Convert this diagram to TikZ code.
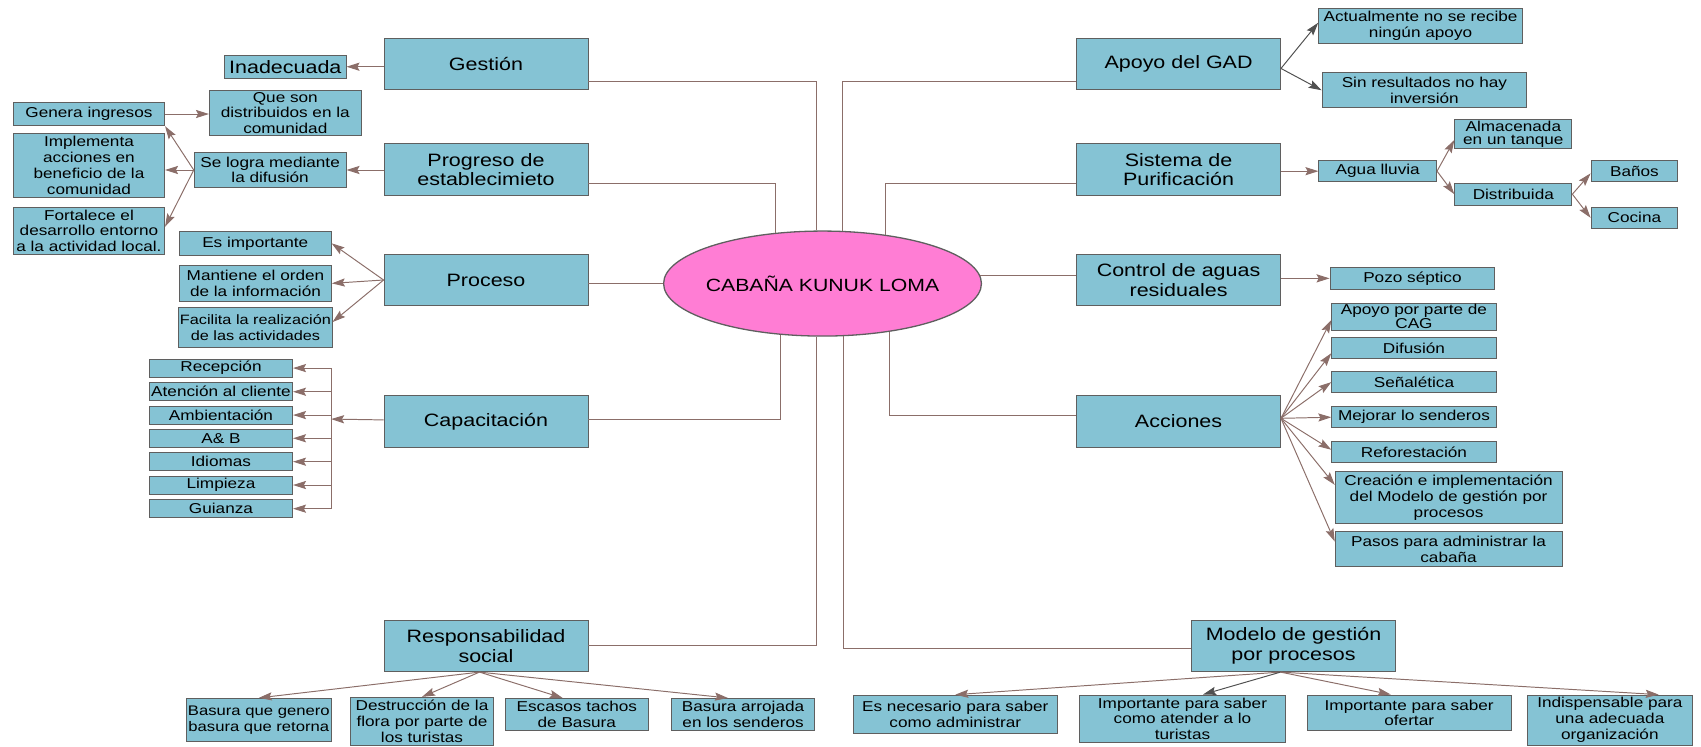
\documentclass[tikz,border=0pt]{standalone}
\usepackage{fontspec}
\setmainfont{Liberation Sans}[FakeStretch=1.2]
\usetikzlibrary{shapes,arrows.meta}
\definecolor{BoxBlue}{RGB}{133,195,212}
\definecolor{BoxLine}{RGB}{95,95,95}
\definecolor{LinkBrown}{RGB}{139,110,105}
\definecolor{HubPink}{RGB}{255,125,212}
\definecolor{ArrGrey}{RGB}{80,80,80}

\begin{document}
\begin{tikzpicture}[x=1pt,y=-1pt]
		\tikzstyle{every node}=[inner sep=1pt, align=center];
		\tikzstyle{main}=[draw=BoxLine, line width=0.8pt, fill=BoxBlue, minimum width=188pt, minimum height=47.5pt, font=\fontsize{16.5}{18}\selectfont];
		\tikzstyle{leaf}=[draw=BoxLine, line width=0.8pt, fill=BoxBlue, font=\fontsize{13.2}{14.5}\selectfont];
		\tikzstyle{link}=[draw=LinkBrown, line width=0.9pt];
		\tikzstyle{arr}=[link, -{Stealth[length=12pt,width=7.5pt,inset=2pt]}];
		\useasboundingbox (0,0) rectangle (1568,688);
		% centre
		\node [ellipse, draw=BoxLine, line width=1.2pt, fill=HubPink, minimum width=293pt, minimum height=96.8pt, font=\fontsize{16.3}{18}\selectfont] (cab) at (758.2,261.4) {\makebox[0pt]{CABAÑA KUNUK LOMA}};
		% left side
		\node [main] (gest) at (448,59.1) {Gestión};
		\node [leaf, font=\fontsize{16.5}{18}\selectfont, minimum width=112pt, minimum height=21.5pt] (inad) at (263,61.5) {Inadecuada};
		\node [main] (prog) at (448,156.3) {Progreso de\\establecimieto};
		\node [leaf, minimum width=140pt, minimum height=33pt] (selog) at (249,156.7) {Se logra mediante\\la difusión};
		\node [leaf, minimum width=139.5pt, minimum height=21.6pt] (gen) at (82,105.1) {Genera ingresos};
		\node [leaf, minimum width=140pt, minimum height=42pt] (que) at (263,104) {Que son\\distribuidos en la\\comunidad};
		\node [leaf, minimum width=139.5pt, minimum height=59pt] (impl) at (82,152.4) {Implementa\\acciones en\\beneficio de la\\comunidad};
		\node [leaf, minimum width=139.5pt, minimum height=43pt] (fort) at (82,212.6) {Fortalece el\\desarrollo entorno\\a la actividad local.};
		\node [main] (proc) at (448,258.1) {Proceso};
		\node [leaf, minimum width=140pt, minimum height=21.4pt] (esimp) at (235.3,224.3) {Es importante};
		\node [leaf, minimum width=140pt, minimum height=32.6pt] (mant) at (235.5,261.2) {Mantiene el orden\\de la información};
		\node [leaf, font=\fontsize{12.5}{14.5}\selectfont, minimum width=140pt, minimum height=37pt] (facil) at (235.5,301.9) {Facilita la realización\\de las actividades};
		\node [main] (capac) at (448,388.6) {Capacitación};
		\coordinate (capbus) at (305.2,386.3);
		\node [leaf, minimum width=132pt, minimum height=16.5pt] (recep) at (203.7,339.3) {Recepción};
		\node [leaf, minimum width=132pt, minimum height=16.5pt] (aten) at (203.7,361.1) {Atención al cliente};
		\node [leaf, minimum width=132pt, minimum height=16.5pt] (ambi) at (203.7,382.6) {Ambientación};
		\node [leaf, minimum width=132pt, minimum height=16.5pt] (ayb) at (203.7,404.0) {A\& B};
		\node [leaf, minimum width=132pt, minimum height=16.5pt] (idio) at (203.7,425.6) {Idiomas};
		\node [leaf, minimum width=132pt, minimum height=16.5pt] (limp) at (203.7,447.1) {Limpieza};
		\node [leaf, minimum width=132pt, minimum height=16.5pt] (guia) at (203.7,468.9) {Guianza};
		\node [main] (resp) at (448,595.4) {Responsabilidad\\social};
		\node [leaf, font=\fontsize{12.8}{14.5}\selectfont, minimum width=133.4pt, minimum height=40pt] (basgen) at (238.6,663.7) {Basura que genero\\basura que retorna};
		\node [leaf, minimum width=132.3pt, minimum height=44pt] (destr) at (389,664.8) {Destrucción de la\\flora por parte de\\los turistas};
		\node [leaf, minimum width=131.8pt, minimum height=29.2pt] (escas) at (531.7,658.4) {Escasos tachos\\de Basura};
		\node [leaf, minimum width=132pt, minimum height=29.2pt] (basarr) at (685,658.4) {Basura arrojada\\en los senderos};
		% right side
		\node [main] (gad) at (1086.4,59.1) {Apoyo del GAD};
		\node [leaf, minimum width=188pt, minimum height=32.3pt] (actual) at (1309.5,23.8) {Actualmente no se recibe\\ningún apoyo};
		\node [leaf, minimum width=188.6pt, minimum height=32.3pt] (sinres) at (1313,83.2) {Sin resultados no hay\\inversión};
		\node [main] (sist) at (1086.4,156.3) {Sistema de\\Purificación};
		\node [leaf, minimum width=108.5pt, minimum height=19.4pt] (agua) at (1270,157.8) {Agua lluvia};
		\node [leaf, font=\fontsize{13.2}{12.5}\selectfont, minimum width=108pt, minimum height=26pt] (almac) at (1395,123.7) {Almacenada\\en un tanque};
		\node [leaf, minimum width=108pt, minimum height=20pt] (distr) at (1395,179) {Distribuida};
		\node [leaf, minimum width=80pt, minimum height=19.4pt] (banos) at (1506.6,157.8) {Baños};
		\node [leaf, minimum width=80pt, minimum height=19.4pt] (cocina) at (1506.6,200.8) {Cocina};
		\node [main] (ctrl) at (1086.4,258.1) {Control de aguas\\residuales};
		\node [leaf, minimum width=152pt, minimum height=19.6pt] (pozo) at (1302,256.6) {Pozo séptico};
		\node [main] (acc) at (1086.4,388.6) {Acciones};
		\node [leaf, font=\fontsize{13.2}{11.5}\selectfont, minimum width=151.6pt, minimum height=24.6pt] (cag) at (1303.4,292) {Apoyo por parte de\\CAG};
		\node [leaf, minimum width=151.6pt, minimum height=19.3pt] (difus) at (1303.4,320.6) {Difusión};
		\node [leaf, minimum width=151.6pt, minimum height=19.3pt] (senal) at (1303.4,352.2) {Señalética};
		\node [leaf, minimum width=151.6pt, minimum height=19.3pt] (mejor) at (1303.4,384.6) {Mejorar lo senderos};
		\node [leaf, minimum width=151.6pt, minimum height=19.3pt] (refor) at (1303.4,416.6) {Reforestación};
		\node [leaf, minimum width=209pt, minimum height=47.6pt] (creac) at (1335.3,458.6) {Creación e implementación\\del Modelo de gestión por\\procesos};
		\node [leaf, minimum width=209pt, minimum height=32.3pt] (pasos) at (1335.3,506.2) {Pasos para administrar la\\cabaña};
		\node [main] (modelo) at (1192.4,595.4) {Modelo de gestión\\por procesos};
		\node [leaf, minimum width=188pt, minimum height=35.3pt] (esnec) at (880.6,658.4) {Es necesario para saber\\como administrar};
		\node [leaf, minimum width=189.6pt, minimum height=44pt] (impat) at (1090,662.6) {Importante para saber\\como atender a lo\\turistas};
		\node [leaf, minimum width=188.5pt, minimum height=33pt] (ofert) at (1299,657.1) {Importante para saber\\ofertar};
		\node [leaf, minimum width=152pt, minimum height=46pt] (indisp) at (1484,663.7) {Indispensable para\\una adecuada\\organización};
		% links to the centre
		\draw [link] ([yshift=-15.6pt]gest.east) -| (cab.97);
		\draw [link] ([yshift=-12.7pt]prog.east) -| (cab.133);
		\draw [link] (cab.west) -- (cab.west -| proc.east);
		\draw [link] ([yshift=2.3pt]capac.east) -| (cab.231);
		\draw [link] (resp.east) -| (cab.263);
		\draw [link] ([yshift=-15.6pt]gad.west) -| (cab.69);
		\draw [link] ([yshift=-12.7pt]sist.west) -| (cab.38);
		\draw [link] (cab.3) -- (cab.3 -| ctrl.west);
		\draw [link] ([yshift=6pt]acc.west) -| (cab.324);
		\draw [link] ([yshift=-2.3pt]modelo.west) -| (cab.292);
		% left arrows
		\draw [arr] (gest.west |- inad.east) -- (inad.east);
		\draw [arr] (prog.west |- selog.east) -- (selog.east);
		\draw [arr] (selog.west) -- (gen.south east);
		\draw [arr] (selog.west) -- (impl.east |- selog.west);
		\draw [arr] (selog.west) -- ([yshift=3.6pt]fort.east);
		\draw [arr] (gen.east) -- (gen.east -| que.west);
		\draw [arr] (proc.west) -- (esimp.east);
		\draw [arr] (proc.west) -- (mant.east);
		\draw [arr] (proc.west) -- ([yshift=5pt]facil.east);
		\draw [arr] (capac) -- (capbus);
		\draw [arr] (capbus) |- (recep.east);
		\draw [arr] (capbus) |- (aten.east);
		\draw [arr] (capbus) |- (ambi.east);
		\draw [arr] (capbus) |- (ayb.east);
		\draw [arr] (capbus) |- (idio.east);
		\draw [arr] (capbus) |- (limp.east);
		\draw [arr] (capbus) |- (guia.east);
		\draw [arr] ([xshift=-6pt]resp.south) -- (basgen.north);
		\draw [arr] ([xshift=-6pt]resp.south) -- (destr.north);
		\draw [arr] ([xshift=-6pt]resp.south) -- ([xshift=-13pt]escas.north);
		\draw [arr] ([xshift=-6pt]resp.south) -- ([xshift=-14pt]basarr.north);
		% right arrows
		\draw [arr, draw=ArrGrey] ([yshift=-4pt]gad.east) -- ([yshift=2.8pt]actual.west);
		\draw [arr, draw=ArrGrey] ([yshift=-4pt]gad.east) -- (sinres.west);
		\draw [arr] (sist.east |- agua.west) -- (agua.west);
		\draw [arr] (agua.east) -- ([yshift=-5.3pt]almac.west);
		\draw [arr] (agua.east) -- (distr.west);
		\draw [arr] (distr.east) -- ([yshift=-2pt]banos.west);
		\draw [arr] (distr.east) -- (cocina.west);
		\draw [arr] (ctrl.east |- pozo.west) -- (pozo.west);
		\draw [arr] ([yshift=3pt]acc.east) -- ([yshift=-3pt]cag.west);
		\draw [arr] ([yshift=3pt]acc.east) -- ([yshift=-5pt]difus.west);
		\draw [arr] ([yshift=3pt]acc.east) -- (senal.west);
		\draw [arr] ([yshift=3pt]acc.east) -- (mejor.west);
		\draw [arr] ([yshift=3pt]acc.east) -- ([yshift=2pt]refor.west);
		\draw [arr] ([yshift=3pt]acc.east) -- ([yshift=11.6pt]creac.west);
		\draw [arr] ([yshift=3pt]acc.east) -- ([yshift=7pt]pasos.west);
		\draw [arr] ([xshift=-12pt]modelo.south) -- (esnec.north);
		\draw [arr, draw=ArrGrey] ([xshift=-12pt]modelo.south) -- ([xshift=19pt]impat.north);
		\draw [arr] ([xshift=-12pt]modelo.south) -- ([xshift=-17pt]ofert.north);
		\draw [arr] ([xshift=-12pt]modelo.south) -- ([xshift=45pt]indisp.north);
	\end{tikzpicture}
\end{document}
